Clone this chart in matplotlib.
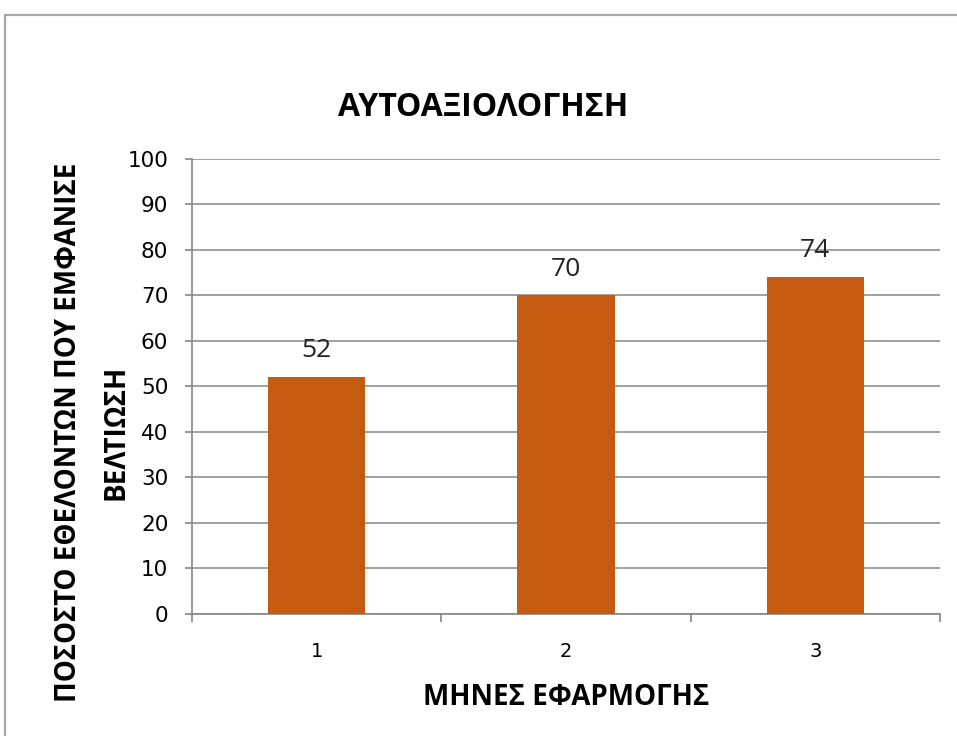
import matplotlib.pyplot as plt
from matplotlib.patches import Rectangle

# Δεδομένα
mhnes = [1, 2, 3]
pososto = [52, 70, 74]
y_ticks = list(range(0, 101, 10))

titlos = "ΑΥΤΟΑΞΙΟΛΟΓΗΣΗ"
x_titlos = "ΜΗΝΕΣ ΕΦΑΡΜΟΓΗΣ"
y_titlos = "ΠΟΣΟΣΤΟ ΕΘΕΛΟΝΤΩΝ ΠΟΥ ΕΜΦΑΝΙΣΕ\nΒΕΛΤΙΩΣΗ"

xroma = "#C55A11"
grammes = "#868686"

fig = plt.figure(figsize=(9.57, 7.36), dpi=100)
ax = fig.add_axes([0.2006, 0.1658, 0.7816, 0.6182])

# Πλαίσιο γραφήματος
fig.patches.append(Rectangle((0.005, -0.05), 1.1, 1.03, transform=fig.transFigure,
                             fill=False, edgecolor="#A6A6A6", linewidth=1.6))

ax.bar(mhnes, pososto, width=0.39, color=xroma, zorder=3)

for x, v in zip(mhnes, pososto):
    ax.annotate(str(v), (x, v), xytext=(0, 10), textcoords="offset points",
                ha="center", va="bottom", fontsize=19, family="Open Sans",
                color="#222222")

ax.set_xlim(0.5, 3.5)
ax.set_ylim(0, 100)
ax.set_yticks(y_ticks)
ax.set_xticks(mhnes)
ax.set_xticks([0.5, 1.5, 2.5, 3.5], minor=True)
ax.tick_params(axis="x", which="major", length=0, pad=20, labelsize=14)
ax.tick_params(axis="x", which="minor", length=6, width=1.2, color=grammes)
ax.tick_params(axis="y", length=5, width=1.2, color=grammes, labelsize=15.5, pad=12)

ax.yaxis.grid(True, color=grammes, linewidth=1.1, zorder=0)
ax.set_axisbelow(True)

for s in ["top", "right"]:
    ax.spines[s].set_visible(False)
for s in ["left", "bottom"]:
    ax.spines[s].set_color(grammes)
    ax.spines[s].set_linewidth(1.2)

fig.text(0.505, 1 - 108 / 736, titlos, fontsize=23, fontweight="bold",
         family="Open Sans", ha="center", va="center")
ax.set_xlabel(x_titlos, fontsize=20, fontweight="bold", family="Open Sans", labelpad=16)
fig.text(92 / 957, 1 - 432 / 736, y_titlos, fontsize=20, fontweight="bold",
         family="Open Sans", rotation=90, ha="center", va="center",
         multialignment="center", linespacing=1.85)

fig.savefig("out.png", dpi=100)
